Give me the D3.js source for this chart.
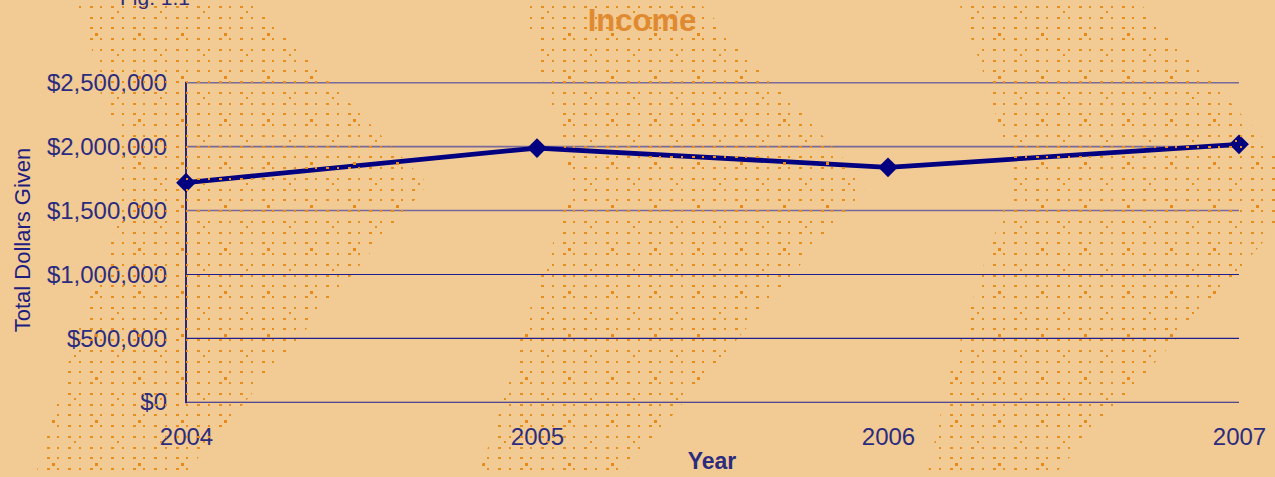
<!DOCTYPE html>
<html>
<head>
<meta charset="utf-8">
<script src="https://cdn.jsdelivr.net/npm/d3@7"></script>
<style>
  html, body { margin: 0; padding: 0; background: #f2ca94; }
  svg { display: block; }
  text { font-family: "Liberation Sans", Arial, sans-serif; }
</style>
</head>
<body>
<div class="container"></div>
<script>
const WIDTH = 1275;
const HEIGHT = 477;
const LEFT = 186, RIGHT = 1239, TOP = 82.7, BOTTOM = 402.3;

// data
var years = ["2004", "2005", "2006", "2007"];
var income = [1718000, 1989000, 1838000, 2018000];
var yTicks = [0, 500000, 1000000, 1500000, 2000000, 2500000];

// dotted texture bands (decoration)
var bands = [
	[[75,0],[250,0],[428,184],[182,477],[35,477],[58,400],[80,322],[102,267],[122,210],[122,137],[102,100],[90,40]],
	[[523,0],[697,0],[868,185],[620,477],[478,477],[502,405],[523,330],[544,267],[556,235],[567,200],[567,158],[555,115],[544,83],[533,40]],
	[[958,0],[1137,0],[1310,190],[1052,477],[927,477],[948,380],[970,310],[980,275],[992,243],[1002,212],[1013,190],[1013,160],[1002,135],[990,95],[980,62],[968,30]]
];

var translate = function(x, y){
	return "translate(" + x + "," + y + ")";
};

var svg = d3.select('.container').append('svg')
	.attr('width', WIDTH)
	.attr('height', HEIGHT);

svg.append('rect').attr('width', WIDTH).attr('height', HEIGHT).attr('fill', '#f2ca94');

var xScale = d3.scalePoint().domain(years).range([LEFT, RIGHT]);
var yScale = d3.scaleLinear().domain([0, 2500000]).range([BOTTOM, TOP]);

// gridlines
svg.append('g').selectAll('line').data(yTicks).enter().append('line')
	.attr('x1', LEFT).attr('x2', RIGHT)
	.attr('y1', function(d){ return yScale(d); })
	.attr('y2', function(d){ return yScale(d); })
	.attr('stroke', function(d){ return d >= 1500000 ? '#77699a' : '#1e1e8e'; })
	.attr('stroke-width', function(d){ return d >= 1500000 ? 1.6 : 1.1; });

// y axis labels
var yAxis = d3.axisLeft(yScale)
	.tickValues(yTicks)
	.tickSize(0)
	.tickPadding(19)
	.tickFormat(function(d){ return "$" + d3.format(",")(d); });

var gy = svg.append('g').attr('transform', translate(LEFT, 0)).call(yAxis);
gy.select('.domain').remove();
gy.selectAll('text')
	.attr('font-size', 24)
	.attr('fill', '#2c2c7e')
	.attr('font-family', '"Liberation Sans", Arial, sans-serif');

// x axis labels
var xAxis = d3.axisBottom(xScale).tickSize(0).tickPadding(0);
var gx = svg.append('g').attr('transform', translate(0, 445)).call(xAxis);
gx.select('.domain').remove();
gx.selectAll('text')
	.attr('dy', 0)
	.attr('y', 0)
	.attr('font-size', 24)
	.attr('fill', '#2c2c7e')
	.attr('font-family', '"Liberation Sans", Arial, sans-serif');

// vertical axis line
svg.append('line')
	.attr('x1', LEFT).attr('x2', LEFT)
	.attr('y1', TOP - 1).attr('y2', BOTTOM + 1)
	.attr('stroke', '#28287a').attr('stroke-width', 2);

// series line
var line = d3.line()
	.x(function(d, i){ return xScale(years[i]); })
	.y(function(d){ return yScale(d); });

svg.append('path')
	.datum(income)
	.attr('d', line)
	.attr('fill', 'none')
	.attr('stroke', '#000080')
	.attr('stroke-width', 4.8)
	.attr('stroke-linejoin', 'round');

svg.append('g').selectAll('path').data(income).enter().append('path')
	.attr('d', d3.symbol().type(d3.symbolSquare).size(195))
	.attr('transform', function(d, i){ return translate(xScale(years[i]), yScale(d)) + " rotate(45)"; })
	.attr('fill', '#000080');

// titles
svg.append('text')
	.attr('x', 642).attr('y', 31)
	.attr('text-anchor', 'middle')
	.attr('font-size', 31).attr('font-weight', 'bold')
	.attr('fill', '#df8a33')
	.text('Income');

svg.append('text')
	.attr('x', 120).attr('y', 5)
	.attr('font-size', 21)
	.attr('fill', '#2c2c7e')
	.text('Fig. 1.1');

svg.append('text')
	.attr('x', 712).attr('y', 469)
	.attr('text-anchor', 'middle')
	.attr('font-size', 23).attr('font-weight', 'bold')
	.attr('fill', '#2c2c7e')
	.text('Year');

svg.append('text')
	.attr('transform', translate(30, 240) + " rotate(-90)")
	.attr('text-anchor', 'middle')
	.attr('font-size', 22)
	.attr('fill', '#1e1e80')
	.text('Total Dollars Given');

// dotted texture on top
var defs = svg.append('defs');
var pat = defs.append('pattern')
	.attr('id', 'dots')
	.attr('patternUnits', 'userSpaceOnUse')
	.attr('x', 79).attr('y', 6)
	.attr('width', 43).attr('height', 43);
var offs = [0, 11, 21, 32];
var widths = [2, 3, 2, 3];
offs.forEach(function(ox, i){
	offs.forEach(function(oy){
		pat.append('rect').attr('x', ox).attr('y', oy)
			.attr('width', widths[i]).attr('height', 2)
			.attr('shape-rendering', 'crispEdges')
			.attr('fill', '#e88e1c');
	});
});
pat.append('rect').attr('x', 16).attr('y', 27).attr('width', 3).attr('height', 3)
	.attr('shape-rendering', 'crispEdges').attr('fill', '#e88a18');
pat.append('rect').attr('x', 38).attr('y', 5).attr('width', 2).attr('height', 2)
	.attr('shape-rendering', 'crispEdges').attr('fill', '#e88e1c');

svg.append('g').selectAll('polygon').data(bands).enter().append('polygon')
	.attr('points', function(d){ return d.map(function(p){ return p.join(','); }).join(' '); })
	.attr('fill', 'url(#dots)');
</script>
</body>
</html>
